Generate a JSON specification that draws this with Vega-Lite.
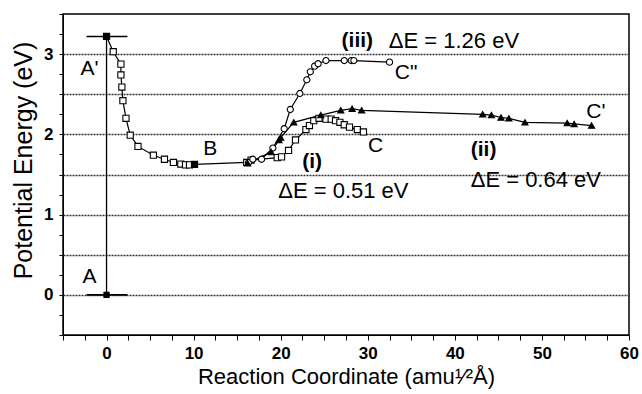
{
  "$schema": "https://vega.github.io/schema/vega-lite/v6.json",
  "width": 566,
  "height": 321,
  "autosize": {"type": "none"},
  "padding": {"left": 63, "top": 14, "right": 13, "bottom": 59},
  "background": "white",
  "config": {
    "font": "Liberation Sans",
    "view": {"stroke": "black", "strokeWidth": 1.5},
    "axis": {
      "domainColor": "black", "tickColor": "black", "labelColor": "black", "titleColor": "black",
      "labelFont": "Liberation Sans", "titleFont": "Liberation Sans",
      "titleFontWeight": "normal", "labelFontWeight": "bold", "labelFontSize": 17, "titleFontSize": 22
    }
  },
  "datasets": {
    "paths": [
      {"series": "i", "k": 0, "x": 0, "y": 3.22},
      {"series": "i", "k": 1, "x": 0.77, "y": 3.03},
      {"series": "i", "k": 2, "x": 1.65, "y": 2.875},
      {"series": "i", "k": 3, "x": 1.65, "y": 2.74},
      {"series": "i", "k": 4, "x": 1.76, "y": 2.59},
      {"series": "i", "k": 5, "x": 1.88, "y": 2.42},
      {"series": "i", "k": 6, "x": 2.23, "y": 2.2},
      {"series": "i", "k": 7, "x": 2.72, "y": 1.99},
      {"series": "i", "k": 8, "x": 3.61, "y": 1.85},
      {"series": "i", "k": 9, "x": 5.38, "y": 1.74},
      {"series": "i", "k": 10, "x": 6.65, "y": 1.69},
      {"series": "i", "k": 11, "x": 7.68, "y": 1.65},
      {"series": "i", "k": 12, "x": 8.53, "y": 1.63},
      {"series": "i", "k": 13, "x": 9.07, "y": 1.62},
      {"series": "i", "k": 14, "x": 9.53, "y": 1.62},
      {"series": "i", "k": 15, "x": 10.1, "y": 1.625},
      {"series": "i", "k": 16, "x": 16.1, "y": 1.65},
      {"series": "i", "k": 17, "x": 16.6, "y": 1.68},
      {"series": "i", "k": 18, "x": 19.6, "y": 1.71},
      {"series": "i", "k": 19, "x": 20.1, "y": 1.72},
      {"series": "i", "k": 20, "x": 20.9, "y": 1.8},
      {"series": "i", "k": 21, "x": 21.7, "y": 1.93},
      {"series": "i", "k": 22, "x": 22.9, "y": 2.06},
      {"series": "i", "k": 23, "x": 23.3, "y": 2.11},
      {"series": "i", "k": 24, "x": 23.8, "y": 2.17},
      {"series": "i", "k": 25, "x": 24.4, "y": 2.2},
      {"series": "i", "k": 26, "x": 25.2, "y": 2.19},
      {"series": "i", "k": 27, "x": 25.8, "y": 2.19},
      {"series": "i", "k": 28, "x": 26.3, "y": 2.17},
      {"series": "i", "k": 29, "x": 26.8, "y": 2.15},
      {"series": "i", "k": 30, "x": 27.3, "y": 2.12},
      {"series": "i", "k": 31, "x": 27.9, "y": 2.09},
      {"series": "i", "k": 32, "x": 28.8, "y": 2.06},
      {"series": "i", "k": 33, "x": 29.5, "y": 2.03},
      {"series": "iii", "k": 0, "x": 16.3, "y": 1.65},
      {"series": "iii", "k": 1, "x": 16.8, "y": 1.69},
      {"series": "iii", "k": 2, "x": 17.8, "y": 1.69},
      {"series": "iii", "k": 3, "x": 19.1, "y": 1.83},
      {"series": "iii", "k": 4, "x": 20.4, "y": 2.07},
      {"series": "iii", "k": 5, "x": 21.1, "y": 2.31},
      {"series": "iii", "k": 6, "x": 22.2, "y": 2.51},
      {"series": "iii", "k": 7, "x": 23.0, "y": 2.68},
      {"series": "iii", "k": 8, "x": 23.4, "y": 2.78},
      {"series": "iii", "k": 9, "x": 23.9, "y": 2.85},
      {"series": "iii", "k": 10, "x": 24.3, "y": 2.88},
      {"series": "iii", "k": 11, "x": 25.2, "y": 2.92},
      {"series": "iii", "k": 12, "x": 27.3, "y": 2.92},
      {"series": "iii", "k": 13, "x": 28.1, "y": 2.92},
      {"series": "iii", "k": 14, "x": 28.4, "y": 2.92},
      {"series": "iii", "k": 15, "x": 32.5, "y": 2.9},
      {"series": "ii", "k": 0, "x": 16.2, "y": 1.64},
      {"series": "ii", "k": 1, "x": 18.9, "y": 1.78},
      {"series": "ii", "k": 2, "x": 19.8, "y": 1.93},
      {"series": "ii", "k": 3, "x": 20.0, "y": 1.96},
      {"series": "ii", "k": 4, "x": 21.5, "y": 2.15},
      {"series": "ii", "k": 5, "x": 24.6, "y": 2.24},
      {"series": "ii", "k": 6, "x": 26.9, "y": 2.3},
      {"series": "ii", "k": 7, "x": 28.2, "y": 2.32},
      {"series": "ii", "k": 8, "x": 29.3, "y": 2.3},
      {"series": "ii", "k": 9, "x": 43.2, "y": 2.25},
      {"series": "ii", "k": 10, "x": 44.2, "y": 2.24},
      {"series": "ii", "k": 11, "x": 45.3, "y": 2.21},
      {"series": "ii", "k": 12, "x": 46.2, "y": 2.2},
      {"series": "ii", "k": 13, "x": 48.05, "y": 2.15},
      {"series": "ii", "k": 14, "x": 52.9, "y": 2.14},
      {"series": "ii", "k": 15, "x": 53.7, "y": 2.13},
      {"series": "ii", "k": 16, "x": 55.7, "y": 2.11}
    ],
    "states": [
      {"name": "A", "x": 0, "y": 0},
      {"name": "A'", "x": 0, "y": 3.22},
      {"name": "B", "x": 10.1, "y": 1.625}
    ],
    "bars": [
      {"x": -2.3, "x2": 2.4, "y": 0},
      {"x": -2.3, "x2": 2.4, "y": 3.22}
    ],
    "vertical": [
      {"x": 0, "y": 0, "y2": 3.22}
    ],
    "names": [
      {"text": "A'", "x": -1.95, "y": 2.82},
      {"text": "A", "x": -1.95, "y": 0.22},
      {"text": "B", "x": 11.9, "y": 1.82},
      {"text": "C", "x": 30.9, "y": 1.86},
      {"text": "C\"", "x": 34.4, "y": 2.77},
      {"text": "C'", "x": 56.2, "y": 2.28}
    ],
    "energies": [
      {"text": "ΔE = 1.26 eV", "x": 39.9, "y": 3.16},
      {"text": "ΔE = 0.51 eV", "x": 27.2, "y": 1.3},
      {"text": "ΔE = 0.64 eV", "x": 49.3, "y": 1.43}
    ],
    "paths_labels": [
      {"text": "(iii)", "x": 28.8, "y": 3.16},
      {"text": "(i)", "x": 23.6, "y": 1.65},
      {"text": "(ii)", "x": 43.3, "y": 1.81}
    ]
  },
  "encoding": {
    "x": {
      "field": "x", "type": "quantitative",
      "scale": {"domain": [-5, 60], "nice": false, "zero": false},
      "axis": {
        "title": "Reaction Coordinate (amu¹⁄²Å)",
        "values": [-5, -2.5, 0, 2.5, 5, 7.5, 10, 12.5, 15, 17.5, 20, 22.5, 25, 27.5, 30, 32.5, 35, 37.5, 40, 42.5, 45, 47.5, 50, 52.5, 55, 57.5, 60],
        "format": ".0f",
        "labelExpr": "datum.value % 10 === 0 ? datum.label : ''",
        "tickSize": 5, "labelPadding": 5, "titlePadding": 5, "grid": false, "labelFlush": false
      }
    },
    "y": {
      "field": "y", "type": "quantitative",
      "scale": {"domain": [-0.5, 3.5], "nice": false, "zero": false},
      "axis": {
        "title": "Potential Energy (eV)",
        "values": [-0.5, -0.25, 0, 0.25, 0.5, 0.75, 1, 1.25, 1.5, 1.75, 2, 2.25, 2.5, 2.75, 3, 3.25, 3.5],
        "format": ".0f",
        "labelExpr": "datum.value % 1 === 0 ? datum.label : ''",
        "tickSize": 4, "labelPadding": 6, "titlePadding": 7, "titleFontSize": 25, "titleY": 146,
        "grid": true, "gridColor": "#333333", "gridDash": [2, 1], "gridWidth": 1.3,
        "gridOpacity": {"condition": {"test": "datum.value % 0.5 !== 0 || datum.value <= -0.5 || datum.value >= 3.5", "value": 0}, "value": 1},
        "labelFlush": false
      }
    }
  },
  "layer": [
    {
      "data": {"name": "vertical"},
      "mark": {"type": "rule", "color": "black", "strokeWidth": 1.3},
      "encoding": {"y2": {"field": "y2"}}
    },
    {
      "data": {"name": "bars"},
      "mark": {"type": "rule", "color": "black", "strokeWidth": 1.6},
      "encoding": {"x2": {"field": "x2"}}
    },
    {
      "data": {"name": "paths"},
      "mark": {"type": "line", "color": "black", "strokeWidth": 1.2},
      "encoding": {
        "detail": {"field": "series", "type": "nominal"},
        "order": {"field": "k", "type": "quantitative"}
      }
    },
    {
      "data": {"name": "paths"},
      "mark": {"type": "point", "filled": true, "stroke": "black", "strokeWidth": 1.1, "opacity": 1, "size": 38},
      "encoding": {
        "shape": {"field": "series", "type": "nominal", "scale": {"domain": ["i", "ii", "iii"], "range": ["square", "triangle-up", "circle"]}, "legend": null},
        "fill": {"field": "series", "type": "nominal", "scale": {"domain": ["i", "ii", "iii"], "range": ["white", "black", "white"]}, "legend": null}
      }
    },
    {
      "data": {"name": "states"},
      "mark": {"type": "point", "shape": "square", "filled": true, "color": "black", "opacity": 1, "size": 40}
    },
    {
      "data": {"name": "names"},
      "mark": {"type": "text", "font": "Liberation Sans", "fontSize": 21, "color": "black", "align": "center", "baseline": "middle"},
      "encoding": {"text": {"field": "text"}}
    },
    {
      "data": {"name": "energies"},
      "mark": {"type": "text", "font": "Liberation Sans", "fontSize": 22, "color": "black", "align": "center", "baseline": "middle"},
      "encoding": {"text": {"field": "text"}}
    },
    {
      "data": {"name": "paths_labels"},
      "mark": {"type": "text", "font": "Liberation Sans", "fontSize": 21, "fontWeight": "bold", "color": "black", "align": "center", "baseline": "middle"},
      "encoding": {"text": {"field": "text"}}
    }
  ]
}
